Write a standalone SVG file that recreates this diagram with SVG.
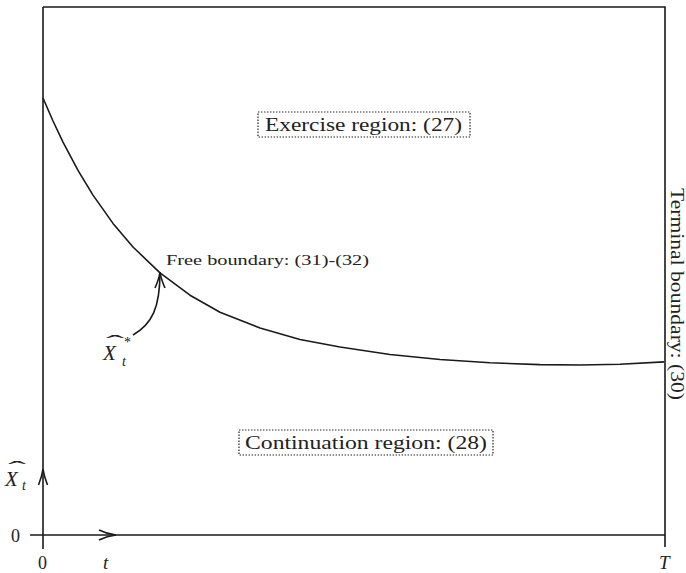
<svg xmlns="http://www.w3.org/2000/svg" width="686" height="573" viewBox="0 0 686 573">
<defs>
<style>
.ln{fill:none;stroke:#1a1a1a;stroke-width:1.6;stroke-linecap:butt}
.dot{fill:none;stroke:#222;stroke-width:1.2;stroke-dasharray:1.4 1.6}
.t{font-family:"Liberation Serif","DejaVu Serif",serif;fill:#222}
.i{font-style:italic}
</style>
</defs>
<rect width="686" height="573" fill="#fff"/>
<g id="connectors">
<path id="frame-top" class="ln" d="M43,7 H665 V547"/>
<path id="y-axis" class="ln" d="M43,7 V549"/>
<path id="x-axis" class="ln" d="M30,535 H665"/>
<path id="y-arrow" class="ln" d="M38.5,485 Q42,476 43,469 Q44,476 47.5,485"/>
<path id="x-arrow" class="ln" d="M99,530 Q107,534 116,535 Q107,536 99,540"/>
<path id="boundary" class="ln" d="M43,98 L53,121 L63,142.1 L78,170.4 L93,195.1 L113,223.4 L133,247 L160,272.9 L190,295.2 L220,312.3 L260,328 L300,339.5 L340,347 L390,354.5 L440,359.5 L490,362.8 L540,364.6 L580,365 L620,364.2 L664,361.9" stroke-linejoin="round"/>
<path id="xstar-arrow" class="ln" d="M133,335 C152,324 160,308 160,272"/>
<path id="xstar-head" class="ln" d="M155,288 Q159,279 160,272 Q161,279 165,288"/>
</g>
<g id="exercise">
<rect class="dot" x="258" y="112" width="212" height="25"/>
<text class="t" x="265" y="131" font-size="19" textLength="197" lengthAdjust="spacingAndGlyphs">Exercise region: (27)</text>
</g>
<g id="continuation">
<rect class="dot" x="239" y="430" width="254" height="25"/>
<text class="t" x="245" y="449" font-size="19" textLength="242" lengthAdjust="spacingAndGlyphs">Continuation region: (28)</text>
</g>
<g id="free-boundary">
<text class="t" x="166" y="265" font-size="15" textLength="203" lengthAdjust="spacingAndGlyphs">Free boundary: (31)-(32)</text>
</g>
<g id="terminal-boundary">
<text class="t" transform="translate(671,188) rotate(90)" x="0" y="0" font-size="18" textLength="212" lengthAdjust="spacingAndGlyphs">Terminal boundary: (30)</text>
</g>
<g id="xstar-label">
<text class="t i" x="103" y="360" font-size="21">X</text>
<text class="t" x="106" y="348" font-size="18" textLength="18" lengthAdjust="spacingAndGlyphs">ˆ</text>
<text class="t i" x="122" y="366" font-size="14">t</text>
<text class="t" x="124" y="347" font-size="14">*</text>
</g>
<g id="y-label">
<text class="t i" x="5" y="486" font-size="21">X</text>
<text class="t" x="8" y="474" font-size="18" textLength="18" lengthAdjust="spacingAndGlyphs">ˆ</text>
<text class="t i" x="22" y="490" font-size="14">t</text>
</g>
<g id="ticks">
<text class="t" x="11" y="542" font-size="18">0</text>
<text class="t" x="38" y="569" font-size="18">0</text>
<text class="t i" x="103" y="569" font-size="19">t</text>
<text class="t i" x="659" y="569" font-size="19">T</text>
</g>
</svg>
